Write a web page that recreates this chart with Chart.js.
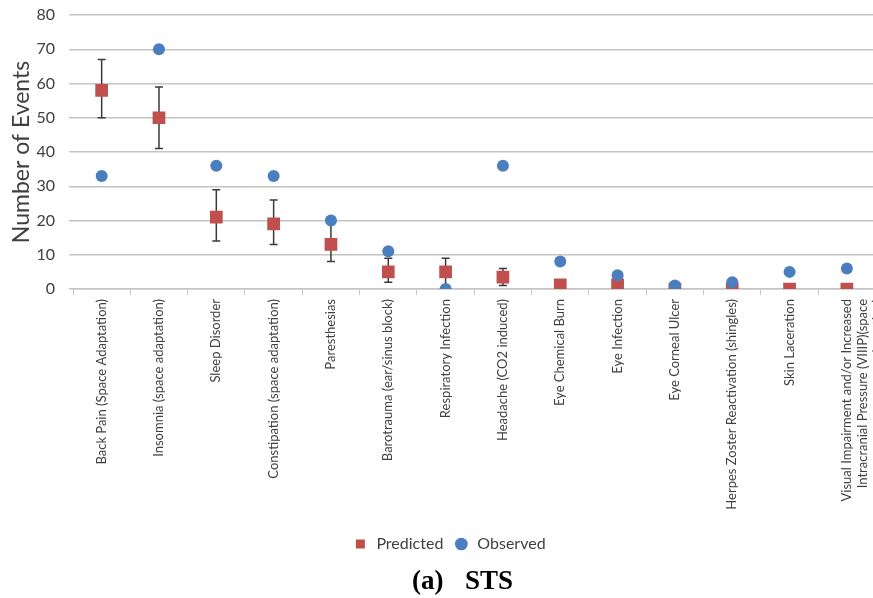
<!DOCTYPE html>
<html>
<head>
<meta charset="utf-8">
<script src="https://cdn.jsdelivr.net/npm/chart.js@4"></script>
<style>
  body { margin: 0; background: #fff; overflow: hidden; }
  #wrap { position: relative; width: 898px; height: 598px; }
  #caption {
    position: absolute; left: 412px; top: 565px;
    font-family: "Liberation Serif", serif; font-weight: bold; font-size: 27px;
    color: #000; white-space: pre; line-height: 30px;
  }
  #caption span { margin-left: 8px; }
</style>
</head>
<body>
<div id="wrap">
  <canvas id="sts-chart" width="898" height="598"></canvas>
  <div id="caption">(a)  <span>STS</span></div>
</div>
<script>
// categories
var categories = [
    "Back Pain (Space Adaptation)",
    "Insomnia (space adaptation)",
    "Sleep Disorder",
    "Constipation (space adaptation)",
    "Paresthesias",
    "Barotrauma (ear/sinus block)",
    "Respiratory Infection",
    "Headache (CO2 induced)",
    "Eye Chemical Burn",
    "Eye Infection",
    "Eye Corneal Ulcer",
    "Herpes Zoster Reactivation (shingles)",
    "Skin Laceration",
    ["Visual Impairment and/or Increased", "Intracranial Pressure (VIIIP)(space", "adaptation)"]
];

// series values
var predicted = [58, 50, 21, 19, 13, 5, 5, 3.5, 1.2, 1.2, 0, 0, 0, 0];
var observed = [33, 70, 36, 33, 20, 11, 0, 36, 8, 4, 1, 2, 5, 6];

// error bars of the predicted values (null = none shown)
var predLow = [50, 41, 14, 13, 8, 2, 1, 1, null, null, null, null, null, null];
var predHigh = [67, 59, 29, 26, 19, 9, 9, 6, null, null, null, null, null, null];

// y tick labels
var yTicks = [0, 10, 20, 30, 40, 50, 60, 70, 80];

var textColor = "#404040";
var gridColor = "#c4c4c4";

// vẽ thanh sai số (error bar) bằng scale của chart
var errorBarPlugin = {
    id: "errorBars",
    beforeDatasetsDraw: function (chart) {
        var ctx = chart.ctx;
        var xs = chart.scales.x;
        var ys = chart.scales.y;
        ctx.save();
        ctx.strokeStyle = "#3a3a3a";
        ctx.lineWidth = 1.5;
        for (var i = 0; i < categories.length; i++) {
            if (predLow[i] == null) continue;
            var x = xs.getPixelForValue(i);
            var y1 = ys.getPixelForValue(predLow[i]);
            var y2 = ys.getPixelForValue(predHigh[i]);
            ctx.beginPath();
            ctx.moveTo(x, y1); ctx.lineTo(x, y2);
            ctx.moveTo(x - 4, y1); ctx.lineTo(x + 4, y1);
            ctx.moveTo(x - 4, y2); ctx.lineTo(x + 4, y2);
            ctx.stroke();
        }
        ctx.restore();
    }
};

var ctx = document.getElementById("sts-chart").getContext("2d");
var myChart = new Chart(ctx, {
    type: "line",
    data: {
        labels: categories,
        datasets: [{
            label: "Predicted",
            data: predicted,
            showLine: false,
            pointStyle: "rect",
            pointRadius: 9,
            pointHoverRadius: 9,
            backgroundColor: "#c0504d",
            borderColor: "#c0504d",
            borderWidth: 0,
            order: 2
        }, {
            label: "Observed",
            data: observed,
            showLine: false,
            pointStyle: "circle",
            pointRadius: 6,
            pointHoverRadius: 6,
            backgroundColor: "#4a7ebf",
            borderColor: "#4a7ebf",
            borderWidth: 0,
            order: 1
        }]
    },
    options: {
        responsive: false,
        animation: false,
        layout: { padding: { top: 15, right: 0, left: 0, bottom: 36 } },
        plugins: {
            tooltip: { enabled: false },
            legend: {
                position: "bottom",
                labels: {
                    usePointStyle: true,
                    boxHeight: 9,
                    padding: 10,
                    color: textColor,
                    font: { family: "Lato", size: 16 },
                    sort: function (a, b) { return a.datasetIndex - b.datasetIndex; }
                }
            }
        },
        scales: {
            x: {
                offset: true,
                grid: {
                    offset: true,
                    drawOnChartArea: false,
                    drawTicks: true,
                    tickLength: 6,
                    color: gridColor
                },
                border: { display: true, color: gridColor, width: 1.5 },
                ticks: {
                    autoSkip: false,
                    maxRotation: 90,
                    minRotation: 90,
                    padding: 4,
                    color: textColor,
                    font: { family: "Lato", size: 13 }
                },
                afterFit: function (scale) { scale.height = 237; }
            },
            y: {
                min: 0,
                max: 80,
                afterBuildTicks: function (scale) {
                    scale.ticks = yTicks.map(function (v) { return { value: v }; });
                },
                grid: { color: gridColor, lineWidth: 1.5, tickLength: 4 },
                border: { display: false },
                ticks: {
                    padding: 14,
                    color: textColor,
                    font: { family: "Lato", size: 16 }
                },
                title: {
                    display: true,
                    text: "Number of Events",
                    color: textColor,
                    font: { family: "Lato", size: 23 },
                    padding: { top: 8, bottom: 0 }
                },
                afterFit: function (scale) {
                    scale.width = 73;
                    scale.paddingTop = 0;
                    scale.paddingBottom = 0;
                }
            }
        }
    },
    plugins: [errorBarPlugin]
});
</script>
</body>
</html>
